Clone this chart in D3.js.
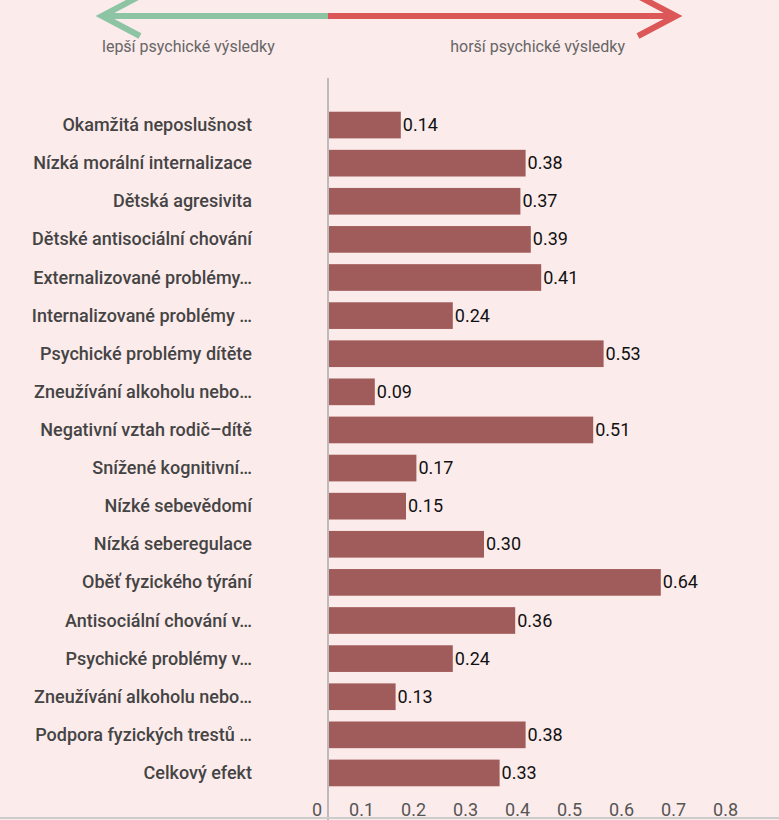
<!DOCTYPE html>
<html><head><meta charset="utf-8">
<script src="https://cdn.jsdelivr.net/npm/d3@7"></script>
<style>body{margin:0;background:#fcebeb;font-family:Roboto,sans-serif}</style>
</head><body><svg id="chart" width="779" height="820"></svg>
<script>
// effect sizes
var effects = [
  { name: "Okamžitá neposlušnost", value: 0.14 },
  { name: "Nízká morální internalizace", value: 0.38 },
  { name: "Dětská agresivita", value: 0.37 },
  { name: "Dětské antisociální chování", value: 0.39 },
  { name: "Externalizované problémy…", value: 0.41 },
  { name: "Internalizované problémy …", value: 0.24 },
  { name: "Psychické problémy dítěte", value: 0.53 },
  { name: "Zneužívání alkoholu nebo…", value: 0.09 },
  { name: "Negativní vztah rodič–dítě", value: 0.51 },
  { name: "Snížené kognitivní…", value: 0.17 },
  { name: "Nízké sebevědomí", value: 0.15 },
  { name: "Nízká seberegulace", value: 0.30 },
  { name: "Oběť fyzického týrání", value: 0.64 },
  { name: "Antisociální chování v…", value: 0.36 },
  { name: "Psychické problémy v…", value: 0.24 },
  { name: "Zneužívání alkoholu nebo…", value: 0.13 },
  { name: "Podpora fyzických trestů …", value: 0.38 },
  { name: "Celkový efekt", value: 0.33 },
];

const svg = d3.select("#chart");
const x = d3.scaleLinear().domain([0, 0.8]).range([328, 744]);
const y = d3.scaleBand().domain(d3.range(effects.length)).range([106, 792])
  .paddingInner(0.3).paddingOuter(0.15);

// direction arrow
svg.append("line").attr("x1", 104).attr("x2", 328).attr("y1", 16).attr("y2", 16)
  .attr("stroke", "#8cc4a4").attr("stroke-width", 6);
svg.append("path").attr("d", "M140,-4 L102,16 L140,36").attr("fill", "none")
  .attr("stroke", "#8cc4a4").attr("stroke-width", 6);
svg.append("line").attr("x1", 328).attr("x2", 674).attr("y1", 16).attr("y2", 16)
  .attr("stroke", "#dc5757").attr("stroke-width", 6);
svg.append("path").attr("d", "M638,-4 L676,16 L638,36").attr("fill", "none")
  .attr("stroke", "#dc5757").attr("stroke-width", 6);
svg.append("text").attr("x", 102).attr("y", 52).attr("font-size", 16).attr("fill", "#666")
  .text("lepší psychické výsledky");
svg.append("text").attr("x", 625).attr("y", 52).attr("font-size", 16).attr("fill", "#666")
  .attr("text-anchor", "end").text("horší psychické výsledky");

svg.append("line").attr("x1", 328).attr("x2", 328).attr("y1", 78).attr("y2", 820)
  .attr("stroke", "#aaa").attr("stroke-width", 1.5);
svg.append("line").attr("x1", 0).attr("x2", 779).attr("y1", 818).attr("y2", 818)
  .attr("stroke", "#ccc").attr("stroke-width", 2);

const row = svg.selectAll("g.row").data(effects).enter().append("g").attr("class", "row");
row.append("rect")
  .attr("x", x(0) + 1).attr("y", (d, i) => y(i))
  .attr("width", (d) => x(d.value) - x(0) - 1).attr("height", y.bandwidth())
  .attr("fill", "#a05c5a");
row.append("text")
  .attr("x", (d) => x(d.value) + 2).attr("y", (d, i) => y(i) + y.bandwidth() / 2 + 6)
  .attr("font-size", 18).attr("fill", "#111").text((d) => d.value.toFixed(2));
row.append("text")
  .attr("x", 252).attr("y", (d, i) => y(i) + y.bandwidth() / 2 + 6)
  .attr("text-anchor", "end").attr("font-size", 18).attr("font-weight", 500)
  .attr("fill", "#444").text((d) => d.name);

svg.selectAll("text.tick").data(d3.range(0, 0.81, 0.1)).enter().append("text")
  .attr("class", "tick").attr("x", (d) => x(d) - 6).attr("y", 816)
  .attr("text-anchor", "end").attr("font-size", 18).attr("fill", "#555")
  .text((d) => d3.format("~g")(+d.toFixed(1)));
</script></body></html>
